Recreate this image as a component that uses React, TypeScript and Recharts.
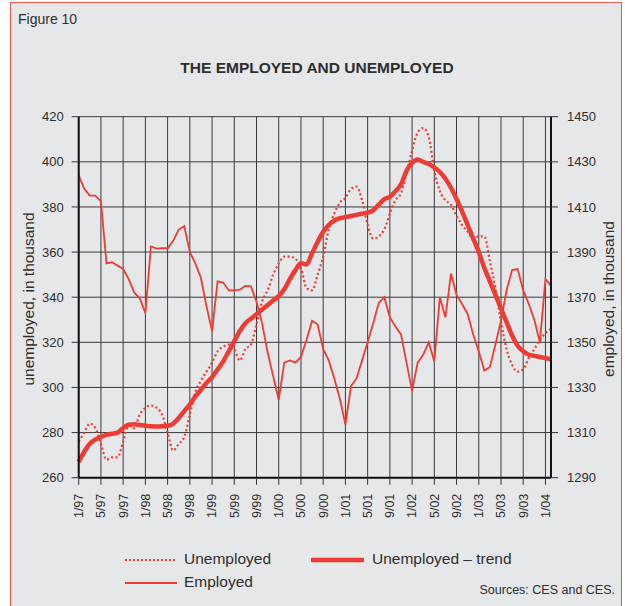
import React from 'react';
import { LineChart, Line, XAxis, YAxis, CartesianGrid } from 'recharts';

// monthly, 1/97 .. 2/04
const START_YEAR = 97;
const MONTH_COUNT = 86;
const months = Array.from({ length: MONTH_COUNT }, (_, i) => {
  const yy = (START_YEAR + Math.floor(i / 12)) % 100;
  return `${(i % 12) + 1}/${String(yy).padStart(2, '0')}`;
});

const unemployed = [
  276, 280, 284, 282, 275, 268, 269, 269, 276, 283, 282, 288,
  291, 292, 291, 288, 280, 272, 275, 278, 288, 298, 303, 307,
  311, 316, 318, 319, 317, 312, 317, 319, 328, 338, 343, 350,
  355, 358, 358, 357, 353, 344, 343, 350, 358, 370, 377, 382,
  384, 388, 389, 383, 372, 366, 367, 370, 377, 383, 386, 395,
  405, 413, 415, 411, 396, 387, 383, 381, 376, 372, 369, 366,
  367, 367, 356, 344, 329, 317, 310, 307, 308, 313, 317, 321,
  324, 326,
];

const unemployedTrend = [
  267, 271.5, 275, 277, 278, 279, 279.5, 280, 282, 283.5, 283.7, 283.4,
  283, 282.8, 282.7, 282.8, 283, 284, 286.5, 289.5, 292.5, 296, 299, 302,
  304.5, 308, 311.5, 316, 320.5, 325, 328.5, 330.5, 332.5, 334.5, 336.5, 338.5,
  340.5, 343.5, 348, 352, 355, 354.5, 359.5, 364.5, 369, 372, 374, 375,
  375.5, 376, 376.5, 377, 377.5, 378.5, 381, 383.5, 384.5, 387, 390, 396,
  399.5, 401, 400, 399, 397.5, 395.5, 392.5, 388.5, 383.5, 378, 372, 366,
  360, 353, 347, 341, 335, 329, 323, 318.5, 316, 314.5, 314, 313.5,
  313, 312.5,
];

const employed = [
  1424, 1418, 1415, 1415, 1412.5, 1385, 1385.5, 1384, 1382.5, 1378, 1372, 1369.5,
  1363, 1392.5, 1391.5, 1391.7, 1391.7, 1395, 1400, 1401.5, 1390, 1385, 1378.5, 1366,
  1355, 1377, 1376.5, 1373, 1373, 1373.3, 1375, 1374.8, 1368, 1358.5, 1345.5, 1335,
  1324.5, 1341, 1342, 1341, 1343.5, 1351, 1359.5, 1358, 1347, 1342, 1334, 1325,
  1313.5, 1330.5, 1334, 1342, 1350, 1358.5, 1367.5, 1370, 1361, 1357, 1353.5, 1341,
  1328.5, 1341, 1344.5, 1350, 1341.5, 1370, 1361, 1380.5, 1371, 1367, 1362.5, 1353.5,
  1346, 1337.5, 1339, 1349, 1359.5, 1373, 1382, 1382.5, 1373, 1367, 1360, 1350,
  1378, 1375,
];

const leftTicks = [260, 280, 300, 320, 340, 360, 380, 400, 420];
const rightTicks = [1290, 1310, 1330, 1350, 1370, 1390, 1410, 1430, 1450];

const data = months.map((m, i) => ({
  month: m,
  unemployed: unemployed[i],
  trend: unemployedTrend[i],
  employed: employed[i],
}));

const RED = '#ee3b34';
const TEXT = '#2e2e2e';
const FONT = '"Liberation Sans", Arial, Helvetica, sans-serif';

const MonthTick = (props: any) => {
  const { x, y, payload } = props;
  return (
    <text
      x={x}
      y={y}
      transform={`rotate(-90 ${x} ${y})`}
      textAnchor="end"
      dy="0.35em"
      fontSize={12.5}
      fill={TEXT}
      fontFamily={FONT}
    >
      {payload.value}
    </text>
  );
};

const abs = (left: number, top: number, extra: React.CSSProperties = {}): React.CSSProperties => ({
  position: 'absolute',
  left,
  top,
  ...extra,
});

export default function App() {
  return (
    <div
      style={{
        position: 'absolute',
        left: 10,
        top: 2,
        width: 612,
        height: 610,
        background: '#e6e7e8',
        border: '1px solid #ec5a4f',
        boxSizing: 'border-box',
        fontFamily: FONT,
        color: TEXT,
      }}
    >
      <div style={abs(7, 8, { fontSize: 14 })}>Figure 10</div>
      <div style={abs(0, 56, { width: 612, textAlign: 'center', fontSize: 15.5, fontWeight: 'bold' })}>
        THE EMPLOYED AND UNEMPLOYED
      </div>

      <div
        style={abs(18, 296, {
          transform: 'translate(-50%, -50%) rotate(-90deg)',
          whiteSpace: 'nowrap',
          fontSize: 15.5,
        })}
      >
        unemployed, in thousand
      </div>
      <div
        style={abs(598, 296, {
          transform: 'translate(-50%, -50%) rotate(-90deg)',
          whiteSpace: 'nowrap',
          fontSize: 15.5,
        })}
      >
        employed, in thousand
      </div>

      <div style={abs(0, 0)}>
        <LineChart
          width={612}
          height={604}
          data={data}
          margin={{ top: 113.7, right: 22, left: 7.7, bottom: 89.3 }}
        >
          <CartesianGrid yAxisId="left" stroke="#3a3a3a" strokeWidth={1} />
          <XAxis
            dataKey="month"
            interval={3}
            height={40}
            tickSize={7}
            tickMargin={9}
            tick={<MonthTick />}
            axisLine={{ stroke: '#111', strokeWidth: 2 }}
            tickLine={{ stroke: '#333' }}
          />
          <YAxis
            yAxisId="left"
            domain={[260, 420]}
            ticks={leftTicks}
            width={60}
            tickSize={7}
            tickMargin={8}
            axisLine={{ stroke: '#111', strokeWidth: 2 }}
            tickLine={{ stroke: '#333' }}
            tick={{ fontSize: 13, fill: TEXT, fontFamily: FONT }}
          />
          <YAxis
            yAxisId="right"
            orientation="right"
            domain={[1290, 1450]}
            ticks={rightTicks}
            width={50}
            tickSize={7}
            tickMargin={9}
            axisLine={{ stroke: '#111', strokeWidth: 2 }}
            tickLine={{ stroke: '#333' }}
            tick={{ fontSize: 13, fill: TEXT, fontFamily: FONT }}
          />
          <Line
            yAxisId="right"
            type="linear"
            dataKey="employed"
            stroke={RED}
            strokeWidth={1.8}
            dot={false}
            isAnimationActive={false}
          />
          <Line
            yAxisId="left"
            type="monotone"
            dataKey="unemployed"
            stroke={RED}
            strokeWidth={2.2}
            strokeDasharray="2 2.5"
            dot={false}
            isAnimationActive={false}
          />
          <Line
            yAxisId="left"
            type="monotone"
            dataKey="trend"
            stroke={RED}
            strokeWidth={4.5}
            dot={false}
            isAnimationActive={false}
          />
        </LineChart>
      </div>

      {/* legend */}
      <svg style={abs(114, 550)} width={54} height={14}>
        <line x1={0} y1={7} x2={52} y2={7} stroke={RED} strokeWidth={2} strokeDasharray="2 2" />
      </svg>
      <div style={abs(173, 547, { fontSize: 15.5 })}>Unemployed</div>
      <svg style={abs(300, 550)} width={56} height={14}>
        <line x1={0} y1={7} x2={53} y2={7} stroke={RED} strokeWidth={4.5} />
      </svg>
      <div style={abs(361, 547, { fontSize: 15.5 })}>Unemployed – trend</div>
      <svg style={abs(114, 573)} width={54} height={14}>
        <line x1={0} y1={7} x2={52} y2={7} stroke={RED} strokeWidth={1.8} />
      </svg>
      <div style={abs(173, 570, { fontSize: 15.5 })}>Employed</div>
      <div style={abs(0, 580, { width: 604, textAlign: 'right', fontSize: 12.5 })}>
        Sources: CES and CES.
      </div>
    </div>
  );
}
